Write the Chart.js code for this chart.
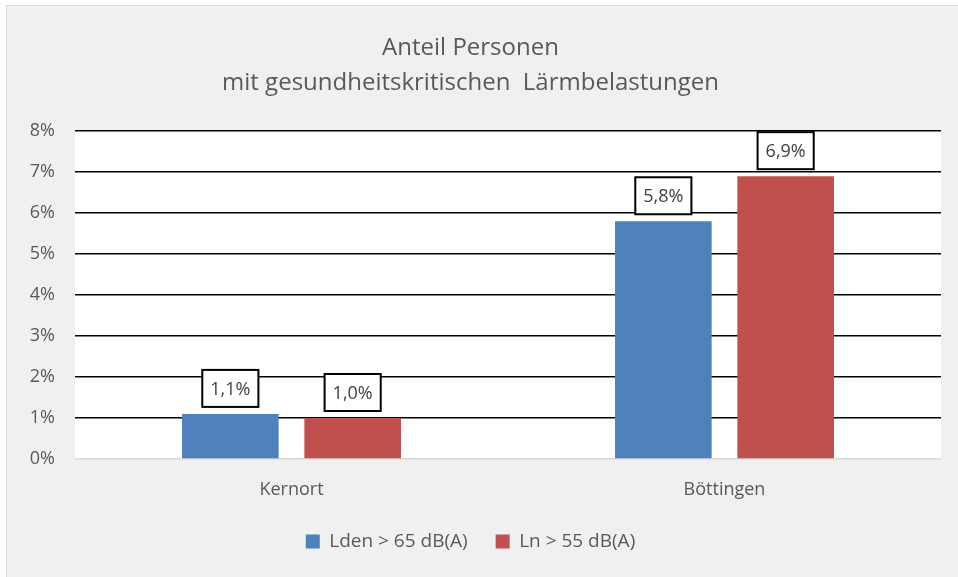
<!DOCTYPE html>
<html>
<head>
<meta charset="utf-8">
<script src="https://cdn.jsdelivr.net/npm/chart.js@4"></script>
<style>
  html, body { margin: 0; padding: 0; background: #fff; }
  #wrap { width: 958px; height: 577px; }
</style>
</head>
<body>
<div id="wrap"><canvas id="laermChart" width="958" height="577"></canvas></div>
<script>
const categories = ["Kernort", "Böttingen"];
const ldenValues = [1.1, 5.8];
const lnValues = [1.0, 6.9];
const seriesNames = ["Lden > 65 dB(A)", "Ln > 55 dB(A)"];
const titleLines = ["Anteil Personen", "mit gesundheitskritischen  Lärmbelastungen"];

const fontFamily = "'Open Sans', Lato, sans-serif";
const textColor = "#595959";

// background: grey frame + white plot area
const backgroundPlugin = {
    id: "background",
    beforeDraw(chart) {
        const c = chart.ctx;
        const a = chart.chartArea;
        c.save();
        c.fillStyle = "#ffffff";
        c.fillRect(0, 0, chart.width, chart.height);
        c.fillStyle = "#f0f0f0";
        c.fillRect(6, 5, chart.width - 6, chart.height - 5);
        c.strokeStyle = "#d9d9d9";
        c.lineWidth = 1;
        c.strokeRect(6.5, 5.5, chart.width, chart.height);
        c.fillStyle = "#ffffff";
        c.fillRect(a.left, a.top, a.right - a.left, a.bottom - a.top);
        c.restore();
    }
};

// boxed value labels above each bar
const boxLabelPlugin = {
    id: "boxLabels",
    afterDatasetsDraw(chart) {
        const c = chart.ctx;
        c.save();
        c.font = "18px " + fontFamily;
        c.textAlign = "center";
        c.textBaseline = "middle";
        chart.data.datasets.forEach((ds, i) => {
            chart.getDatasetMeta(i).data.forEach((bar, j) => {
                const txt = ds.data[j].toFixed(1).replace(".", ",") + "%";
                const w = c.measureText(txt).width + 16;
                const h = 37;
                const bottom = bar.y - 7;
                c.fillStyle = "#ffffff";
                c.fillRect(bar.x - w / 2, bottom - h, w, h);
                c.strokeStyle = "#000000";
                c.lineWidth = 2;
                c.strokeRect(bar.x - w / 2, bottom - h, w, h);
                c.fillStyle = "#404040";
                c.fillText(txt, bar.x, bottom - h / 2 + 1);
            });
        });
        c.restore();
    }
};

new Chart(document.getElementById("laermChart"), {
    type: "bar",
    data: {
        labels: categories,
        datasets: [
            {
                label: seriesNames[0],
                data: ldenValues,
                backgroundColor: "#4f81bd",
                categoryPercentage: 0.565,
                barPercentage: 0.79
            },
            {
                label: seriesNames[1],
                data: lnValues,
                backgroundColor: "#c0504d",
                categoryPercentage: 0.565,
                barPercentage: 0.79
            }
        ]
    },
    options: {
        responsive: false,
        animation: false,
        layout: { padding: { top: 5, right: 17, bottom: 16, left: 0 } },
        plugins: {
            title: {
                display: true,
                text: titleLines,
                color: textColor,
                font: { family: fontFamily, size: 24, weight: "normal", lineHeight: 1.46 },
                padding: { top: 26, bottom: 30 }
            },
            legend: {
                position: "bottom",
                labels: {
                    color: textColor,
                    font: { family: fontFamily, size: 19 },
                    boxWidth: 14,
                    boxHeight: 14,
                    padding: 28
                }
            },
            tooltip: { enabled: false }
        },
        scales: {
            x: {
                grid: { display: false },
                border: { display: false },
                ticks: { color: textColor, font: { family: fontFamily, size: 18 }, padding: 12 },
                afterFit(scale) { scale.height = 45; }
            },
            y: {
                min: 0,
                max: 8,
                border: { display: false },
                grid: {
                    drawTicks: false,
                    color: ctx => ctx.tick && ctx.tick.value === 0 ? "#d9d9d9" : "#000000",
                    lineWidth: 1.5
                },
                ticks: {
                    stepSize: 1,
                    color: textColor,
                    font: { family: fontFamily, size: 18 },
                    padding: 20,
                    callback: v => v + "%"
                },
                afterFit(scale) { scale.width = 75; }
            }
        }
    },
    plugins: [backgroundPlugin, boxLabelPlugin]
});
</script>
</body>
</html>
